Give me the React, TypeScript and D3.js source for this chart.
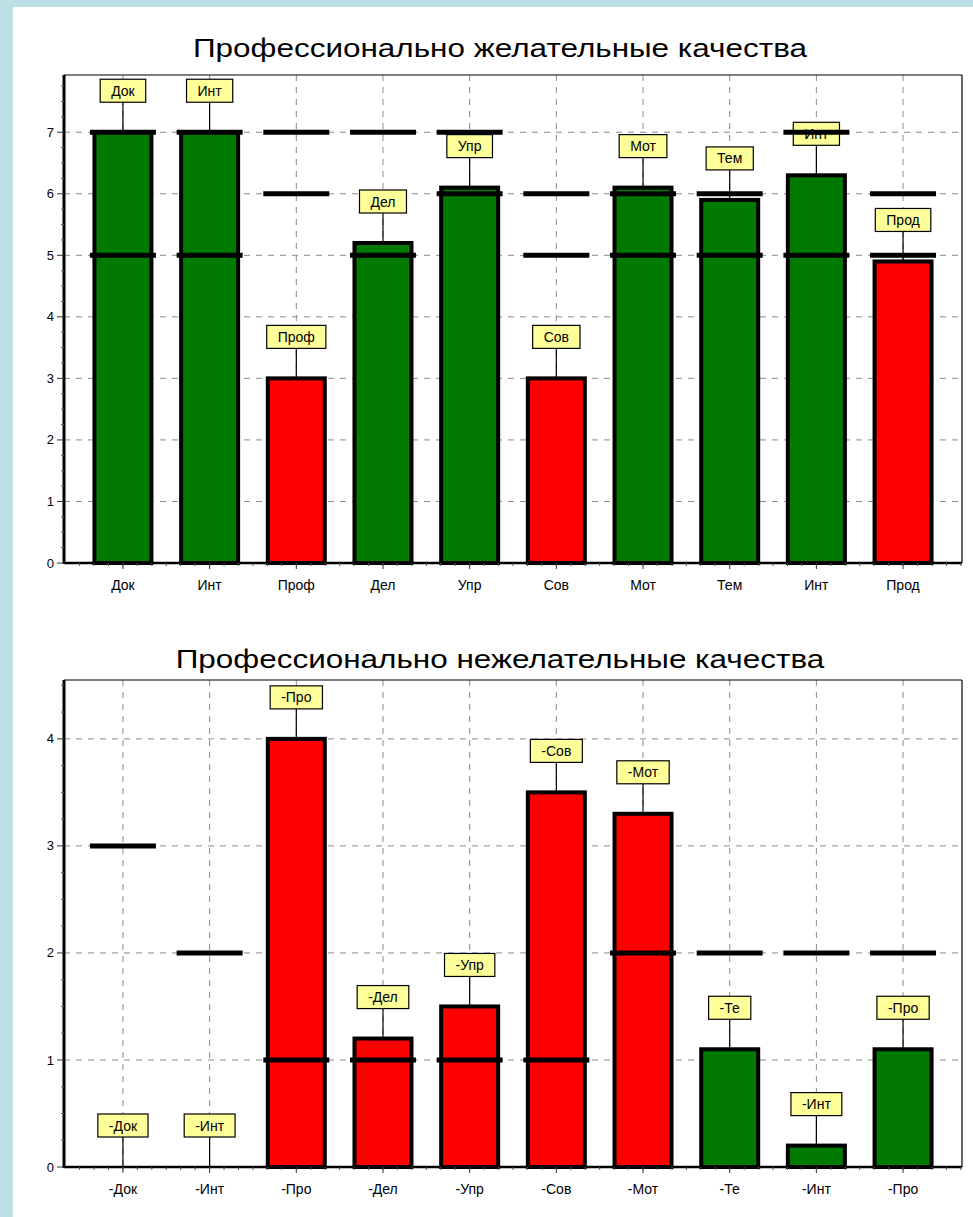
import React from "react";
import * as d3 from "d3";

// ---------- data ----------
const topTitle = "Профессионально желательные качества";
const topCats = ["Док", "Инт", "Проф", "Дел", "Упр", "Сов", "Мот", "Тем", "Инт", "Прод"];
const topValues = [7, 7, 3, 5.2, 6.1, 3, 6.1, 5.9, 6.3, 4.9];
const topKinds = ["ok", "ok", "bad", "ok", "ok", "bad", "ok", "ok", "ok", "bad"];
const topRefHigh = [7, 7, 7, 7, 7, 6, 6, 6, 7, 6];
const topRefLow = [5, 5, 6, 5, 6, 5, 5, 5, 5, 5];
const topTicks = [0, 1, 2, 3, 4, 5, 6, 7];

const botTitle = "Профессионально нежелательные качества";
const botCats = ["-Док", "-Инт", "-Про", "-Дел", "-Упр", "-Сов", "-Мот", "-Те", "-Инт", "-Про"];
const botValues = [0, 0, 4.0, 1.2, 1.5, 3.5, 3.3, 1.1, 0.2, 1.1];
const botKinds = ["bad", "bad", "bad", "bad", "bad", "bad", "bad", "ok", "ok", "ok"];
const botRef = [3, 2, 1, 1, 1, 1, 2, 2, 2, 2];
const botTicks = [0, 1, 2, 3, 4];

const COLORS: Record<string, string> = { ok: "#007a00", bad: "#ff0000" };
const FONT = "Arial, 'Liberation Sans', sans-serif";

let ctx: CanvasRenderingContext2D | null = null;
function measure(s: string, size: number) {
  if (!ctx) ctx = document.createElement("canvas").getContext("2d");
  if (!ctx) return s.length * size * 0.55;
  ctx.font = `${size}px Arial, 'Liberation Sans', sans-serif`;
  return ctx.measureText(s).width;
}

type PanelProps = {
  title: string;
  titleY: number;
  cats: string[];
  values: number[];
  kinds: string[];
  refs: number[][];
  ticks: number[];
  yMax: number;
  top: number;
  bottom: number;
  labelY: number;
};

function Panel(p: PanelProps) {
  const left = 64;
  const right = 962;
  const idx = p.cats.map((_, i) => i);
  const x = d3.scalePoint<number>().domain(idx).range([left, right]).padding(0.68);
  const step = x.step();
  const y = d3.scaleLinear().domain([0, p.yMax]).range([p.bottom, p.top]);
  const barW = 57;
  const refW = 66;
  const minor = d3.range(0.25, p.yMax, 0.25).filter((v) => Math.abs(v - Math.round(v)) > 1e-6);
  const xMinor: number[] = [];
  for (let v = x(0)! - step * 0.5; v < right; v += step / 6) if (v > left) xMinor.push(v);
  const titleW = measure(p.title, 26) * 1.21;

  return (
    <g>
      <text
        x={500}
        y={p.titleY}
        textAnchor="middle"
        fontFamily={FONT}
        fontSize={26}
        fill="#000"
        textLength={titleW}
        lengthAdjust="spacingAndGlyphs"
      >
        {p.title}
      </text>
      {/* grid */}
      {p.ticks.filter((t) => t > 0).map((t) => (
        <line key={"gy" + t} x1={left} x2={right} y1={y(t)} y2={y(t)} stroke="#8a8a8a" strokeDasharray="6,6" />
      ))}
      {idx.map((i) => (
        <line key={"gx" + i} x1={x(i)} x2={x(i)} y1={p.top} y2={p.bottom} stroke="#8a8a8a" strokeDasharray="6,6" />
      ))}
      {/* frame */}
      <line x1={left} x2={right} y1={p.top} y2={p.top} stroke="#000" strokeWidth={1.2} />
      <line x1={right} x2={right} y1={p.top} y2={p.bottom} stroke="#000" strokeWidth={1.2} />
      {/* bars */}
      {idx.map((i) => (
        <rect
          key={"b" + i}
          x={x(i)! - barW / 2}
          y={y(p.values[i])}
          width={barW}
          height={y(0) - y(p.values[i])}
          fill={COLORS[p.kinds[i]]}
          stroke="#000"
          strokeWidth={4}
        />
      ))}
      {/* labels */}
      {idx.map((i) => {
        const w = measure(p.cats[i], 14) + 22;
        const barTop = y(p.values[i]);
        const bb = barTop - 30;
        return (
          <g key={"l" + i}>
            <line x1={x(i)} x2={x(i)} y1={bb} y2={barTop} stroke="#000" strokeWidth={1.2} />
            <rect x={x(i)! - w / 2} y={bb - 23} width={w} height={23} fill="#ffff99" stroke="#000" strokeWidth={1.2} />
            <text x={x(i)} y={bb - 6.5} textAnchor="middle" fontFamily={FONT} fontSize={14} fill="#000">
              {p.cats[i]}
            </text>
          </g>
        );
      })}
      {/* reference marks */}
      {p.refs.map((arr, k) =>
        idx.map((i) => (
          <line
            key={"r" + k + "-" + i}
            x1={x(i)! - refW / 2}
            x2={x(i)! + refW / 2}
            y1={y(arr[i])}
            y2={y(arr[i])}
            stroke="#000"
            strokeWidth={5}
          />
        ))
      )}
      {/* axes */}
      <line x1={left} x2={left} y1={p.top} y2={p.bottom + 1} stroke="#000" strokeWidth={3} />
      <line x1={left} x2={right} y1={p.bottom} y2={p.bottom} stroke="#000" strokeWidth={2.5} />
      {minor.map((v) => (
        <line key={"ym" + v} x1={left - 3} x2={left} y1={y(v)} y2={y(v)} stroke="#555" strokeWidth={1} />
      ))}
      {p.ticks.map((t) => (
        <g key={"yt" + t}>
          <line x1={left - 7} x2={left} y1={y(t)} y2={y(t)} stroke="#333" strokeWidth={1} />
          <text x={54} y={y(t)} dy="0.35em" textAnchor="end" fontFamily={FONT} fontSize={13} fill="#000">
            {t}
          </text>
        </g>
      ))}
      {xMinor.map((v, k) => (
        <line key={"xm" + k} x1={v} x2={v} y1={p.bottom} y2={p.bottom + 3} stroke="#555" strokeWidth={1} />
      ))}
      {idx.map((i) => (
        <g key={"xt" + i}>
          <line x1={x(i)} x2={x(i)} y1={p.bottom} y2={p.bottom + 6} stroke="#333" strokeWidth={1} />
          <text x={x(i)} y={p.labelY} textAnchor="middle" fontFamily={FONT} fontSize={14} fill="#000">
            {p.cats[i]}
          </text>
        </g>
      ))}
    </g>
  );
}

export default function App() {
  return (
    <svg width={973} height={1217} style={{ position: "absolute", left: 0, top: 0 }}>
      <rect x={0} y={0} width={973} height={1217} fill="#bde0e5" />
      <rect x={13} y={7} width={960} height={1210} fill="#ffffff" />
      <Panel
        title={topTitle}
        titleY={57}
        cats={topCats}
        values={topValues}
        kinds={topKinds}
        refs={[topRefHigh, topRefLow]}
        ticks={topTicks}
        yMax={7.93}
        top={75}
        bottom={563}
        labelY={590}
      />
      <Panel
        title={botTitle}
        titleY={668}
        cats={botCats}
        values={botValues}
        kinds={botKinds}
        refs={[botRef]}
        ticks={botTicks}
        yMax={4.55}
        top={680}
        bottom={1167}
        labelY={1194}
      />
    </svg>
  );
}
